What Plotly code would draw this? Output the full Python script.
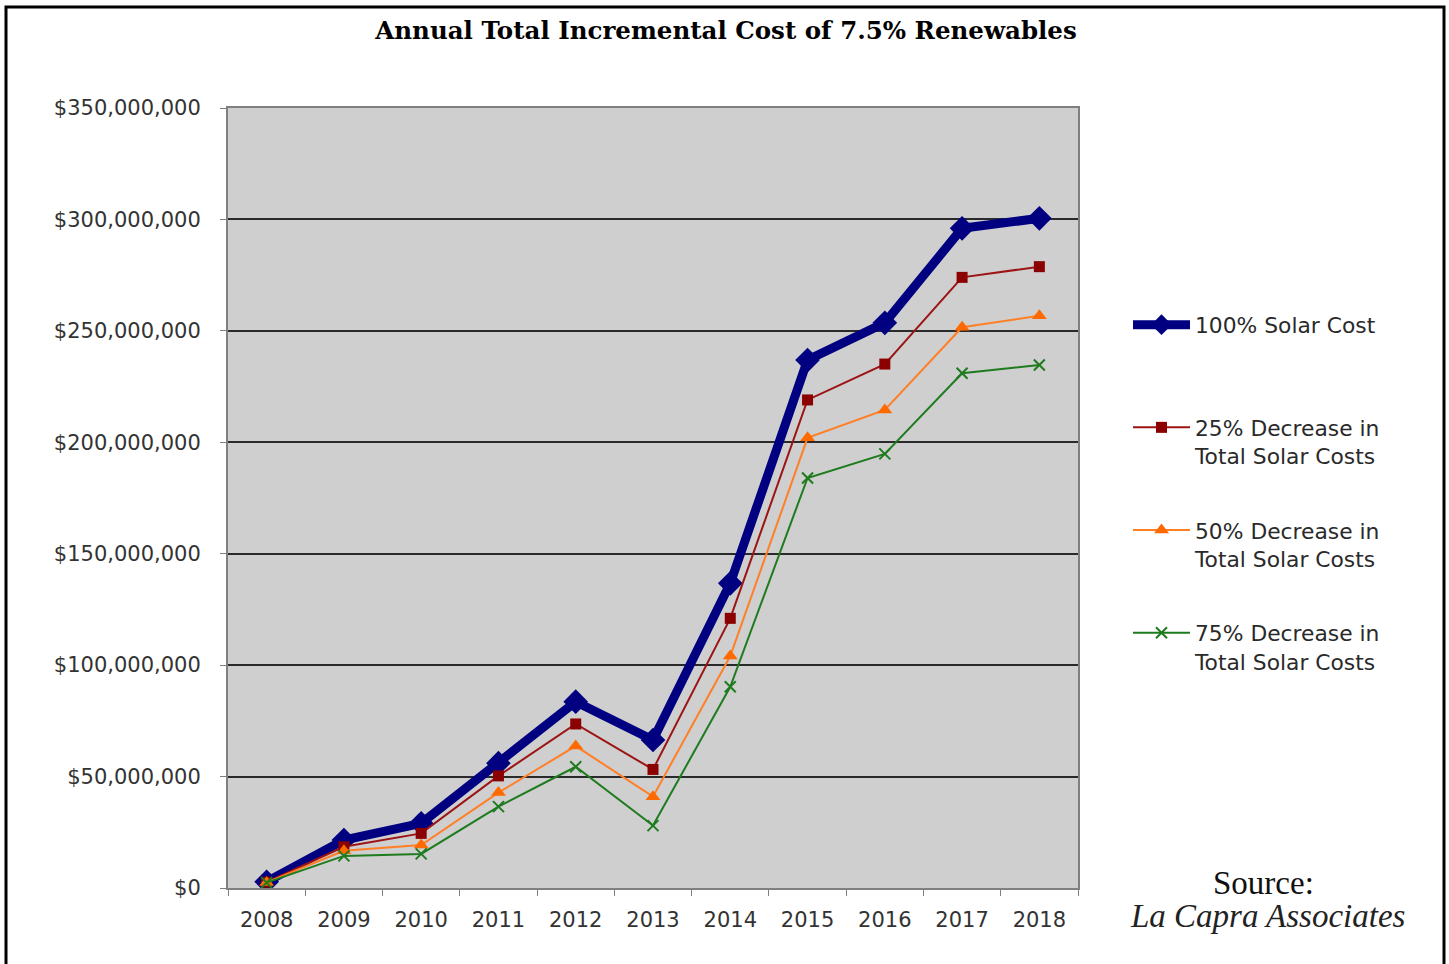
import plotly.graph_objects as go

years = ["2008", "2009", "2010", "2011", "2012", "2013", "2014", "2015", "2016", "2017", "2018"]
solar_100 = [2.8e6, 21.5e6, 29.0e6, 56.0e6, 83.6e6, 66.4e6, 136.7e6, 236.9e6, 253.6e6, 296.0e6, 300.5e6]
dec_25 = [2.6e6, 18.5e6, 24.5e6, 50.3e6, 73.6e6, 53.2e6, 121.0e6, 219.0e6, 235.1e6, 274.0e6, 278.8e6]
dec_50 = [2.5e6, 16.7e6, 19.3e6, 42.8e6, 63.7e6, 41.0e6, 104.1e6, 202.0e6, 214.5e6, 251.6e6, 256.8e6]
dec_75 = [2.4e6, 14.4e6, 15.3e6, 36.5e6, 54.4e6, 28.0e6, 90.3e6, 184.0e6, 194.8e6, 231.0e6, 234.7e6]

names = [
    "100% Solar Cost<br>&nbsp;",
    "25% Decrease in<br>Total Solar Costs",
    "50% Decrease in<br>Total Solar Costs",
    "75% Decrease in<br>Total Solar Costs",
]

fig = go.Figure()
fig.add_trace(go.Scatter(
    x=years, y=solar_100, name=names[0], legendgroup="a", mode="lines+markers",
    line=dict(color="#000080", width=9),
    marker=dict(symbol="diamond", size=19, color="#000080"),
))
fig.add_trace(go.Scatter(
    x=years, y=dec_25, name=names[1], legendgroup="b", mode="lines+markers",
    line=dict(color="#9c1414", width=2),
    marker=dict(symbol="square", size=11, color="#8b0000"),
))
fig.add_trace(go.Scatter(
    x=years, y=dec_50, name=names[2], legendgroup="c", mode="lines+markers",
    line=dict(color="#ff7f27", width=2),
    marker=dict(symbol="triangle-up", size=13, color="#ff6a00"),
))
fig.add_trace(go.Scatter(
    x=years, y=dec_75, name=names[3], legendgroup="d", mode="lines+markers",
    line=dict(color="#1e7b1e", width=2),
    marker=dict(symbol="x-thin", size=11, color="#1e7b1e", line=dict(color="#1e7b1e", width=2)),
))

L, R, T, B = 228, 1078, 108, 888
W, H = 1449, 964
pw, ph = R - L, B - T

def px(x):
    return (x - L) / pw

def py(y):
    return (B - y) / ph

fig.update_layout(
    width=W, height=H,
    margin=dict(l=L, r=W - R, t=T, b=H - B),
    paper_bgcolor="white",
    plot_bgcolor="#cfcfcf",
    title=dict(
        text="<b>Annual Total Incremental Cost of 7.5% Renewables</b>",
        font=dict(family="DejaVu Serif", size=24.5, color="black"),
        x=(726) / W, xanchor="center", y=1 - 30 / H, yanchor="middle",
    ),
    showlegend=True,
    legend=dict(
        x=px(1128), xanchor="left", y=py(304), yanchor="top",
        font=dict(family="DejaVu Sans", size=21.8, color="#2a2a2a"),
        bgcolor="rgba(0,0,0,0)",
        itemwidth=57, valign="top",
        traceorder="grouped", tracegroupgap=43,
    ),
    xaxis=dict(
        type="category", range=[-0.5, 10.5],
        showgrid=False, showline=True, linecolor="#808080", linewidth=2, mirror=True,
        ticks="outside", ticklen=6, tickcolor="#808080", tickwidth=1,
        tickson="boundaries",
        tickfont=dict(family="DejaVu Sans", size=21, color="#333333"),
        ticklabelstandoff=12,
    ),
    yaxis=dict(
        range=[0, 350e6], dtick=50e6, tick0=0,
        tickprefix="$", tickformat=",d",
        showgrid=True, gridcolor="#2a2a2a", gridwidth=2,
        zeroline=False,
        showline=True, linecolor="#808080", linewidth=2, mirror=True,
        ticks="outside", ticklen=6, tickcolor="#808080", tickwidth=1,
        tickfont=dict(family="DejaVu Sans", size=21, color="#333333"),
        ticklabelstandoff=15,
    ),
    shapes=[dict(
        type="rect", xref="paper", yref="paper",
        x0=px(6), x1=px(1444), y0=py(990), y1=py(7),
        line=dict(color="black", width=3), fillcolor="rgba(0,0,0,0)",
        layer="above",
    )],
    annotations=[
        dict(text="Source:", xref="paper", yref="paper", x=px(1263), y=py(883),
             xanchor="center", yanchor="middle", showarrow=False,
             font=dict(family="Liberation Serif", size=33, color="#111111")),
        dict(text="<i>La Capra Associates</i>", xref="paper", yref="paper", x=px(1267), y=py(916),
             xanchor="center", yanchor="middle", showarrow=False,
             font=dict(family="Liberation Serif", size=33, color="#222222")),
    ],
)

fig.write_html(
    "out.html",
    config={"displayModeBar": False},
    post_script="document.body.style.margin='0';document.body.style.overflow='hidden';",
)
